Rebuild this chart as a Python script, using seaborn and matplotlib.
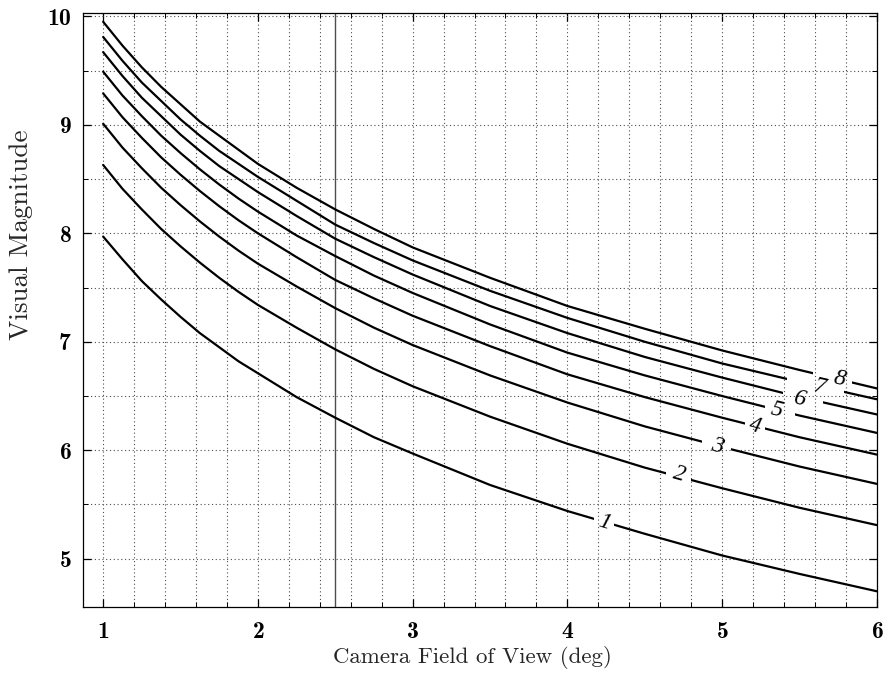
import numpy as np
import pandas as pd
import matplotlib
matplotlib.use("Agg")
import matplotlib.pyplot as plt
from matplotlib.patches import Rectangle
from matplotlib.ticker import MultipleLocator
import seaborn as sns

# ---- data ----
x_fov = [1.0, 1.125, 1.25, 1.375, 1.5, 1.625, 1.75, 1.875, 2.0, 2.25, 2.5, 2.75,
         3.0, 3.5, 4.0, 4.5, 5.0, 5.5, 6.0]
mag_1 = [7.97, 7.76, 7.56, 7.39, 7.23, 7.08, 6.95, 6.82, 6.71, 6.49, 6.30, 6.12,
         5.97, 5.68, 5.44, 5.23, 5.03, 4.86, 4.70]
mag_2 = [8.63, 8.41, 8.22, 8.04, 7.88, 7.73, 7.59, 7.46, 7.34, 7.13, 6.93, 6.75,
         6.59, 6.31, 6.06, 5.84, 5.65, 5.47, 5.31]
mag_3 = [9.01, 8.79, 8.60, 8.42, 8.26, 8.11, 7.97, 7.84, 7.72, 7.51, 7.31, 7.13,
         6.97, 6.69, 6.44, 6.22, 6.03, 5.85, 5.69]
mag_4 = [9.29, 9.07, 8.88, 8.70, 8.54, 8.39, 8.25, 8.12, 8.00, 7.78, 7.57, 7.40,
         7.24, 6.96, 6.70, 6.49, 6.30, 6.12, 5.96]
mag_5 = [9.49, 9.27, 9.08, 8.90, 8.74, 8.59, 8.45, 8.32, 8.20, 7.98, 7.79, 7.61,
         7.45, 7.16, 6.90, 6.69, 6.50, 6.32, 6.16]
mag_6 = [9.67, 9.45, 9.25, 9.08, 8.91, 8.76, 8.62, 8.50, 8.38, 8.16, 7.95, 7.78,
         7.62, 7.33, 7.08, 6.86, 6.67, 6.49, 6.33]
mag_7 = [9.81, 9.59, 9.39, 9.22, 9.05, 8.90, 8.76, 8.64, 8.52, 8.30, 8.08, 7.91,
         7.75, 7.47, 7.22, 7.00, 6.80, 6.63, 6.47]
mag_8 = [9.95, 9.73, 9.53, 9.35, 9.19, 9.03, 8.90, 8.77, 8.64, 8.42, 8.22, 8.04,
         7.87, 7.59, 7.33, 7.12, 6.92, 6.74, 6.57]
levels = [1, 2, 3, 4, 5, 6, 7, 8]
x_ticks = [1, 2, 3, 4, 5, 6]
y_ticks = [5, 6, 7, 8, 9, 10]
marked_fov = 2.5

series = [mag_1, mag_2, mag_3, mag_4, mag_5, mag_6, mag_7, mag_8]
df = pd.concat(
    [pd.DataFrame({"fov": x_fov, "mag": m, "level": lv}) for lv, m in zip(levels, series)],
    ignore_index=True,
)

# label placement (style/position only)
label_pos = {1: (4.24, 5.335), 2: (4.72, 5.78), 3: (4.97, 6.04), 4: (5.21, 6.22),
             5: (5.35, 6.37), 6: (5.50, 6.47), 7: (5.63, 6.58), 8: (5.76, 6.66)}
label_gap = {1: (4.175, 4.30), 2: (4.635, 4.80), 3: (4.87, 5.06), 4: (5.15, 5.28),
             5: (5.28, 5.47), 6: (5.39, 5.65), 7: (5.42, 5.79), 8: (5.585, 5.84)}
label_rot = {1: -17, 2: -16, 3: -15, 4: -14, 5: -14, 6: -13, 7: -13, 8: -13}

sns.set_theme(style="ticks")
plt.rcParams["font.family"] = ["cmr10", "DejaVu Serif"]
plt.rcParams["mathtext.fontset"] = "cm"
plt.rcParams["axes.formatter.use_mathtext"] = True

fig = plt.figure(figsize=(8.88, 6.78), dpi=100)
ax = fig.add_axes([0.0935, 0.1047, 0.894, 0.876])

XMIN, XMAX = 0.87, 6.0
YMIN, YMAX = 4.555, 10.03
ax.set_xlim(XMIN, XMAX)
ax.set_ylim(YMIN, YMAX)

for lv in levels:
    sub = df[df["level"] == lv]
    g0, g1 = label_gap[lv]
    for (cx0, cx1) in [(XMIN, g0), (g1, XMAX)]:
        n_before = len(ax.lines)
        sns.lineplot(data=sub, x="fov", y="mag", color="black", linewidth=1.6,
                     ax=ax, legend=False, estimator=None, sort=True)
        line = ax.lines[n_before]
        clip = Rectangle((cx0, YMIN), cx1 - cx0, YMAX - YMIN,
                         transform=ax.transData, facecolor="none", edgecolor="none")
        line.set_clip_path(clip)
    lx, ly = label_pos[lv]
    ax.text(lx, ly, str(lv), fontfamily="Liberation Serif", fontstyle="italic",
            fontsize=17, rotation=label_rot[lv], ha="center", va="center",
            rotation_mode="anchor", color="black")

ax.axvline(marked_fov, color="0.3", linewidth=1.0, zorder=1.5)

ax.set_xticks(x_ticks)
ax.set_yticks(y_ticks)
ax.xaxis.set_minor_locator(MultipleLocator(0.2))
ax.yaxis.set_minor_locator(MultipleLocator(0.5))
ax.grid(which="both", color="0.3", linestyle=(0, (1, 2.4)), linewidth=0.8)
ax.set_axisbelow(True)

ax.tick_params(which="both", direction="in", top=True, right=True, bottom=True, left=True,
               colors="black", labelcolor="black")
ax.tick_params(which="major", length=6, width=0.9, labelsize=17, pad=8)
ax.tick_params(which="minor", length=3.5, width=0.7)
ax.tick_params(axis="x", which="major", pad=10)
for lab in ax.get_xticklabels() + ax.get_yticklabels():
    lab.set_fontfamily("cmb10")

for s in ax.spines.values():
    s.set_color("black")
    s.set_linewidth(0.9)

ax.set_xlabel("Camera Field of View (deg)", fontsize=16.5)
ax.set_ylabel("Visual Magnitude", fontsize=19.5)
ax.yaxis.set_label_coords(-0.063, 0.626)
ax.xaxis.set_label_coords(0.49, -0.066)

fig.savefig("out.png", dpi=100)
